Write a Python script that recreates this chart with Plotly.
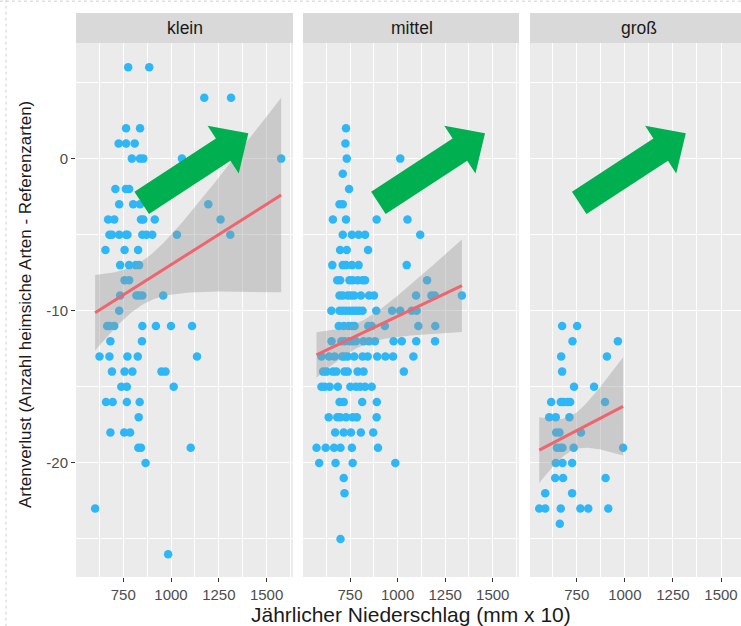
import numpy as np
import plotly.graph_objects as go

# ---------------- data ----------------
panels = ["klein", "mittel", "groß"]

klein_rows = {
    6: [776, 886],
    4: [1174, 1314],
    2: [765, 838],
    1: [726, 765, 810],
    0: [795, 838, 855, 1057, 1576],
    -2: [709, 764, 781],
    -3: [729, 802, 838, 1195],
    -4: [671, 703, 843, 855, 915, 1259],
    -5: [678, 691, 729, 764, 772, 850, 872, 902, 1031, 1310],
    -6: [657, 757, 828],
    -7: [734, 781, 816, 833],
    -8: [757, 781],
    -9: [734, 819, 833, 850, 959],
    -10: [729],
    -11: [666, 678, 703, 850, 921, 1000, 1110],
    -12: [683, 848],
    -13: [626, 678, 772, 826, 1136],
    -14: [691, 757, 798, 950, 971],
    -15: [740, 769, 1014],
    -16: [660, 695, 769, 836],
    -17: [831],
    -18: [683, 755, 786],
    -19: [829, 843, 1103],
    -20: [867],
    -23: [603],
    -26: [985],
}

mittel_rows = {
    2: [729],
    1: [726],
    0: [733, 1014],
    -1: [712],
    -2: [745],
    -3: [695, 712],
    -4: [660, 729, 890, 1052],
    -5: [712, 760, 795, 829, 1119],
    -6: [698, 733, 845],
    -7: [657, 712, 729, 760, 795, 1048],
    -8: [683, 698, 747, 764, 790, 816, 829, 1155],
    -9: [695, 712, 738, 755, 772, 807, 850, 876, 1097, 1178, 1195, 1338],
    -10: [652, 695, 712, 729, 747, 764, 781, 798, 816, 888, 971, 1014, 1074, 1100],
    -11: [691, 717, 743, 760, 774, 846, 864, 933, 1109, 1198],
    -12: [653, 705, 722, 747, 764, 781, 821, 850, 881, 979, 1022, 1098, 1197],
    -13: [600, 640, 669, 709, 721, 738, 772, 816, 843, 893, 936, 976, 1083],
    -14: [609, 626, 660, 678, 721, 738, 790, 821, 1033],
    -15: [600, 617, 643, 686, 752, 781, 803, 829, 864],
    -16: [695, 717, 814, 891],
    -17: [638, 683, 698, 729, 764, 786, 890],
    -18: [672, 717, 755, 807, 872],
    -19: [574, 622, 666, 700, 760, 897],
    -20: [588, 674, 764, 988],
    -21: [717],
    -22: [721],
    -25: [700],
}

gross_rows = {
    -11: [674, 752],
    -12: [728, 964],
    -13: [669, 907],
    -14: [674],
    -15: [736, 840],
    -16: [617, 667, 681, 702, 716, 897],
    -17: [607, 641, 712],
    -18: [643, 660, 772],
    -19: [647, 664, 676, 734, 991],
    -20: [641, 676, 726],
    -21: [638, 679, 900],
    -22: [586, 726],
    -23: [555, 586, 667, 769, 810, 914],
    -24: [662],
}

x_ticks = [750, 1000, 1250, 1500]
y_ticks = [0, -10, -20]

x_title = "Jährlicher Niederschlag (mm x 10)"
y_title = "Artenverlust (Anzahl heimsiche Arten - Referenzarten)"


def flatten(rows):
    xs, ys = [], []
    for yv, xl in rows.items():
        for xv in xl:
            xs.append(xv)
            ys.append(yv)
    return np.array(xs, float), np.array(ys, float)


data = [flatten(klein_rows), flatten(mittel_rows), flatten(gross_rows)]

# ---------------- layout geometry (pixels) ----------------
W, H = 741, 626
ML, MR, MT, MB = 76, 0, 43.3, 49.3
PW = W - ML - MR
PH = H - MT - MB
panel_px = [(76, 293), (303, 519), (530, 741)]
x_ranges = [[503, 1638], [503, 1638], [507, 1604]]
y_range = [-27.5, 7.6]


def px_x(p):
    return (p - ML) / PW


def px_y(p):
    return (H - MB - p) / PH


POINT = "#2DB7F6"
LINE = "#F0646E"
GREEN = "#00B050"
FONT = "Liberation Sans, Arial, sans-serif"


def tq(df):
    z = 1.959964
    return z + (z**3 + z) / (4 * df) + (5 * z**5 + 16 * z**3 + 3 * z) / (96 * df**2)


fig = go.Figure()
for i, (xs, ys) in enumerate(data):
    xa = "x" if i == 0 else f"x{i+1}"
    ya = "y" if i == 0 else f"y{i+1}"
    # linear fit + 95% CI (like geom_smooth(method="lm"))
    n = len(xs)
    b, a = np.polyfit(xs, ys, 1)
    res = ys - (a + b * xs)
    s = np.sqrt(np.sum(res**2) / (n - 2))
    xm = xs.mean()
    sxx = np.sum((xs - xm) ** 2)
    xg = np.linspace(xs.min(), xs.max(), 80)
    yg = a + b * xg
    se = s * np.sqrt(1 / n + (xg - xm) ** 2 / sxx)
    t = tq(n - 2)
    lo, hi = yg - t * se, yg + t * se
    fig.add_trace(go.Scatter(x=xs, y=ys, mode="markers", xaxis=xa, yaxis=ya,
                             marker=dict(color=POINT, size=8.5, line=dict(width=0)),
                             showlegend=False, hoverinfo="skip"))
    fig.add_trace(go.Scatter(x=np.concatenate([xg, xg[::-1]]),
                             y=np.concatenate([hi, lo[::-1]]),
                             fill="toself", fillcolor="rgba(153,153,153,0.4)",
                             line=dict(width=0), mode="lines", xaxis=xa, yaxis=ya,
                             showlegend=False, hoverinfo="skip"))
    fig.add_trace(go.Scatter(x=xg, y=yg, mode="lines", xaxis=xa, yaxis=ya,
                             line=dict(color=LINE, width=3),
                             showlegend=False, hoverinfo="skip"))

axis_common = dict(showline=False, zeroline=False, showgrid=True,
                   gridcolor="white", gridwidth=1.1,
                   ticks="outside", ticklen=4, tickwidth=1.1, tickcolor="#333333",
                   tickfont=dict(family=FONT, size=15, color="#4D4D4D"))

layout = dict(width=W, height=H, margin=dict(l=ML, r=MR, t=MT, b=MB),
              paper_bgcolor="white", plot_bgcolor="#EBEBEB",
              font=dict(family=FONT), showlegend=False)

for i in range(3):
    xk = "xaxis" if i == 0 else f"xaxis{i+1}"
    yk = "yaxis" if i == 0 else f"yaxis{i+1}"
    x0, x1 = panel_px[i]
    layout[xk] = dict(axis_common, domain=[px_x(x0), min(px_x(x1), 1.0)],
                      range=x_ranges[i], tickvals=x_ticks,
                      ticktext=[str(v) for v in x_ticks],
                      anchor="y" if i == 0 else f"y{i+1}",
                      minor=dict(dtick=125, tick0=0, showgrid=True,
                                 gridcolor="white", gridwidth=0.55, ticks=""))
    layout[yk] = dict(axis_common, domain=[0, 1], range=y_range,
                      tickvals=y_ticks, ticktext=[str(v) for v in y_ticks],
                      anchor="x" if i == 0 else f"x{i+1}",
                      showticklabels=(i == 0),
                      ticks="outside" if i == 0 else "",
                      minor=dict(dtick=5, tick0=0, showgrid=True,
                                 gridcolor="white", gridwidth=0.55, ticks=""))
    if i > 0:
        layout[yk]["matches"] = "y"

fig.update_layout(**layout)

shapes = []
annotations = []
# strips
for i, name in enumerate(panels):
    x0, x1 = panel_px[i]
    shapes.append(dict(type="rect", xref="paper", yref="paper",
                       x0=px_x(x0), x1=px_x(x1), y0=px_y(43.3), y1=px_y(13.3),
                       fillcolor="#D9D9D9", line=dict(width=0), layer="below"))
    annotations.append(dict(text=name, xref="paper", yref="paper",
                            x=px_x((x0 + (x0 + 217)) / 2), y=px_y(28.3),
                            showarrow=False, xanchor="center", yanchor="middle",
                            font=dict(family=FONT, size=17.5, color="#1A1A1A")))

# green block arrows (decoration)
def arrow_path(tail, tip, w=13.3, hw=28.5, hl=30):
    T = np.array(tail, float)
    P = np.array(tip, float)
    u = (P - T) / np.linalg.norm(P - T)
    nvec = np.array([-u[1], u[0]])
    B = P - hl * u
    pts = [T + w * nvec, B + w * nvec, B + hw * nvec, P, B - hw * nvec, B - w * nvec, T - w * nvec]
    return "M " + " L ".join(f"{px_x(p[0]):.5f},{px_y(p[1]):.5f}" for p in pts) + " Z"


for off in [0, 236.7, 437.5]:
    shapes.append(dict(type="path", xref="paper", yref="paper",
                       path=arrow_path((141.7 + off, 203.0), (248.3 + off, 133.5)),
                       fillcolor=GREEN, line=dict(width=0), layer="above"))

# dotted screenshot border
shapes.append(dict(type="line", xref="paper", yref="paper",
                   x0=px_x(6), x1=px_x(6), y0=px_y(0), y1=px_y(626),
                   line=dict(color="#CFCFCF", width=1, dash="dot")))
shapes.append(dict(type="line", xref="paper", yref="paper",
                   x0=px_x(0), x1=px_x(741), y0=px_y(1.5), y1=px_y(1.5),
                   line=dict(color="#CFCFCF", width=1, dash="dot")))

annotations.append(dict(text=x_title, xref="paper", yref="paper",
                        x=px_x(411), y=px_y(614), showarrow=False,
                        xanchor="center", yanchor="middle",
                        font=dict(family=FONT, size=21, color="#1A1A1A")))
annotations.append(dict(text=y_title, xref="paper", yref="paper",
                        x=px_x(26), y=px_y(305), showarrow=False, textangle=-90,
                        xanchor="center", yanchor="middle",
                        font=dict(family=FONT, size=17, color="#1A1A1A")))

fig.update_layout(shapes=shapes, annotations=annotations)
fig.write_html("out.html")
